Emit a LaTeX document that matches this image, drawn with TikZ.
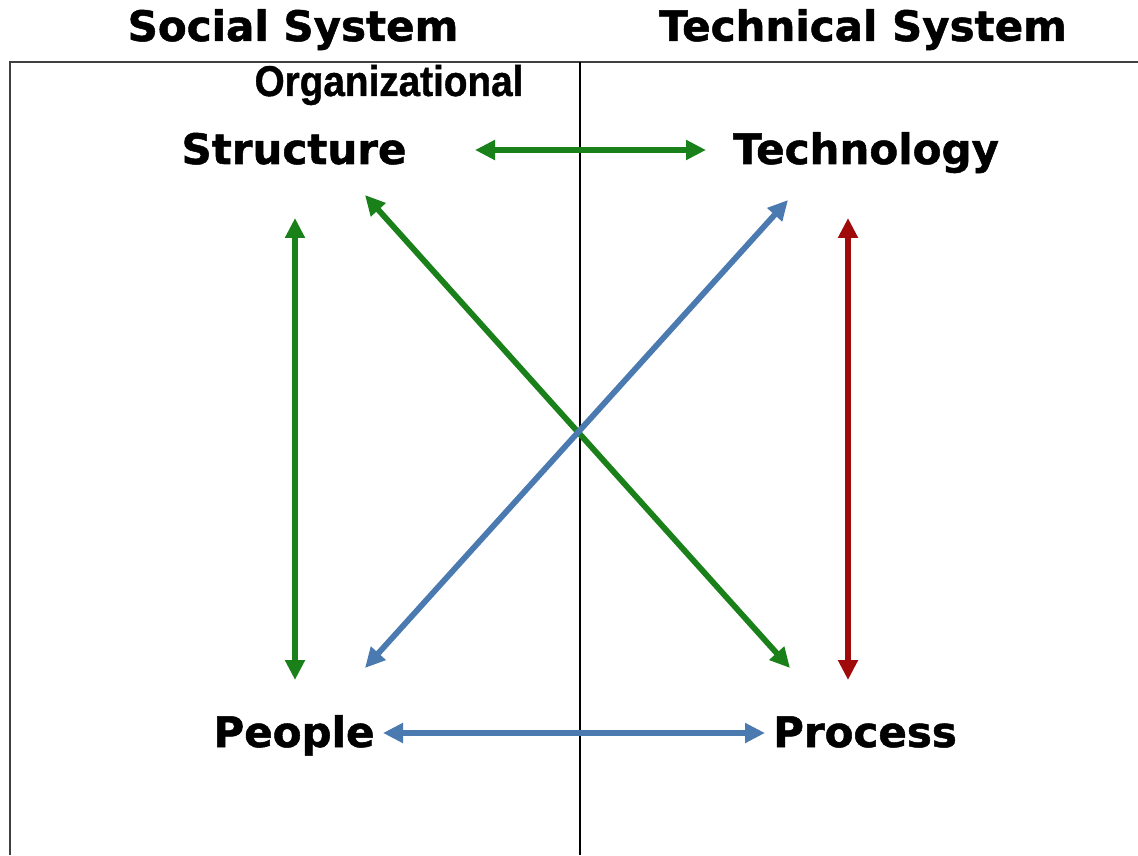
\documentclass[tikz,border=0pt]{standalone}
\usepackage{fontspec}
\setmainfont{DejaVu Sans}[BoldFeatures={FakeBold=1.2}]
\newfontfamily\arialfont{Liberation Sans}[BoldFeatures={FakeBold=1}]
\usetikzlibrary{arrows.meta}
\definecolor{agreen}{RGB}{26,128,26}
\definecolor{ablue}{RGB}{74,122,176}
\definecolor{ared}{RGB}{160,10,10}
\tikzset{
  lbl/.style={font=\bfseries\fontsize{21}{24}\selectfont, inner sep=0pt, anchor=base},
  conn/.style={line width=2.9pt, {Triangle[length=10pt,width=9.5pt]}-{Triangle[length=10pt,width=9.5pt]}},
  frame/.style={line width=1.1pt, black!75}
}
\begin{document}
\begin{tikzpicture}[x=0.5pt,y=-0.5pt]
\useasboundingbox (0,0) rectangle (1138,855);
\fill[white] (0,0) rectangle (1138,855);
\draw[frame] (10,855) -- (10,62) -- (1138,62);
\draw[line width=0.8pt] (580,62) -- (580,855);
\node[lbl] (soc) at (293,41) {Social System};
\node[lbl] (tec) at (863,41) {Technical System};
\node[inner sep=0pt, anchor=base, font=\arialfont\bfseries\fontsize{21.5}{24}\selectfont] (org) at (389,96) {\scalebox{0.9}[1]{Organizational}};
\node[lbl] (str) at (294,164) {Structure};
\node[lbl] (tech) at (866,164) {Technology};
\node[lbl] (peo) at (294,747) {People};
\node[lbl] (pro) at (865,747) {Process};
\coordinate (a1) at (475,150); \coordinate (a2) at (706,150);
\coordinate (b1) at (295,218); \coordinate (b2) at (295,680);
\coordinate (c1) at (365,195); \coordinate (c2) at (790,668);
\coordinate (d1) at (365,668); \coordinate (d2) at (788,200);
\coordinate (e1) at (848,218); \coordinate (e2) at (848,680);
\coordinate (f1) at (383,733); \coordinate (f2) at (765,733);
\draw[conn, agreen] (a1) -- (a2);
\draw[conn, agreen] (b1) -- (b2);
\draw[conn, agreen] (c1) -- (c2);
\draw[conn, ablue] (d1) -- (d2);
\draw[conn, ared] (e1) -- (e2);
\draw[conn, ablue] (f1) -- (f2);
\end{tikzpicture}
\end{document}
